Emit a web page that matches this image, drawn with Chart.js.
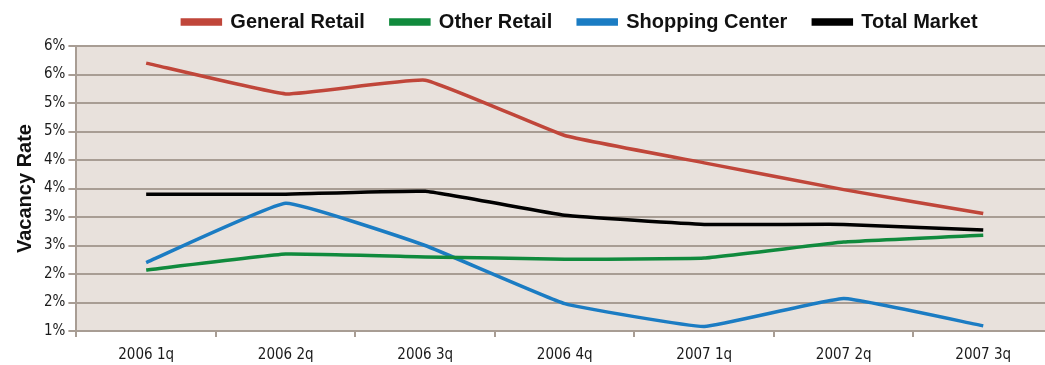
<!DOCTYPE html>
<html>
<head>
<meta charset="utf-8">
<script src="https://cdn.jsdelivr.net/npm/chart.js@4.4.1/dist/chart.umd.min.js"></script>
<style>
  html, body { margin: 0; padding: 0; background: #fff; overflow: hidden; }
  #wrap { width: 1053px; height: 365px; }
</style>
</head>
<body>
<div id="wrap"><canvas id="vacancyChart" width="1053" height="365"></canvas></div>
<script>
// Datos del gráfico
const quarters = ["2006 1q", "2006 2q", "2006 3q", "2006 4q", "2007 1q", "2007 2q", "2007 3q"];
const generalRetail = [5.70, 5.16, 5.40, 4.43, 3.95, 3.48, 3.06];
const otherRetail = [2.07, 2.35, 2.30, 2.26, 2.28, 2.56, 2.68];
const shoppingCenter = [2.20, 3.24, 2.50, 1.48, 1.08, 1.57, 1.09];
const totalMarket = [3.40, 3.40, 3.45, 3.03, 2.87, 2.87, 2.77];

const gridColor = "#a89d94";
const narrowFont = "'Liberation Sans Narrow', 'DejaVu Sans Condensed', Arial, sans-serif";
const boldFont = "'Liberation Sans', Arial, sans-serif";

// Fondo del área de trazado
const plotBackground = {
  id: "plotBackground",
  beforeDraw(chart) {
    const { ctx, chartArea } = chart;
    ctx.save();
    ctx.fillStyle = "#e8e1dc";
    ctx.fillRect(chartArea.left, chartArea.top, chartArea.right - chartArea.left, chartArea.bottom - chartArea.top);
    ctx.restore();
  },
};

// Leyenda: un poco más de aire debajo y desplazada a la derecha
const legendTweak = {
  id: "legendTweak",
  beforeInit(chart) {
    const origFit = chart.legend.fit;
    chart.legend.fit = function () {
      origFit.call(this);
      this.height += 4;
    };
  },
  afterLayout(chart) {
    chart.legend.left += 47;
    chart.legend.right += 47;
  },
};

function makeSet(label, data, color) {
  return {
    label: label,
    data: data,
    borderColor: color,
    backgroundColor: color,
    borderWidth: 3.5,
    pointRadius: 0,
    tension: 0.1,
    fill: false,
  };
}

new Chart(document.getElementById("vacancyChart").getContext("2d"), {
  type: "line",
  data: {
    labels: quarters,
    datasets: [
      makeSet("General Retail", generalRetail, "#c0463a"),
      makeSet("Other Retail", otherRetail, "#108a3d"),
      makeSet("Shopping Center", shoppingCenter, "#1b7cc3"),
      makeSet("Total Market", totalMarket, "#000000"),
    ],
  },
  options: {
    responsive: false,
    animation: false,
    layout: { padding: { top: -14, left: 13, right: 0, bottom: -8 } },
    scales: {
      x: {
        offset: true,
        grid: {
          offset: true,
          drawOnChartArea: false,
          drawTicks: true,
          tickLength: 6,
          color: gridColor,
          lineWidth: 2,
        },
        border: { color: gridColor, width: 2 },
        ticks: { color: "#1a1a1a", font: { family: narrowFont, size: 15 }, padding: 9, maxRotation: 0 },
      },
      y: {
        min: 1,
        max: 6,
        grid: { color: gridColor, lineWidth: 2, tickLength: 8 },
        border: { color: gridColor, width: 2 },
        ticks: {
          stepSize: 0.5,
          color: "#1a1a1a",
          font: { family: narrowFont, size: 15 },
          padding: 3,
          callback: (v) => Math.round(v) + "%",
        },
        title: {
          display: true,
          text: "Vacancy Rate",
          color: "#111",
          font: { family: boldFont, size: 20, weight: "bold" },
          padding: { top: 0, bottom: 4 },
        },
      },
    },
    plugins: {
      legend: {
        display: true,
        position: "top",
        labels: {
          boxWidth: 38,
          boxHeight: 4,
          padding: 26,
          color: "#111",
          font: { family: boldFont, size: 20, weight: "bold" },
        },
      },
      tooltip: { enabled: false },
    },
  },
  plugins: [plotBackground, legendTweak],
});
</script>
</body>
</html>
